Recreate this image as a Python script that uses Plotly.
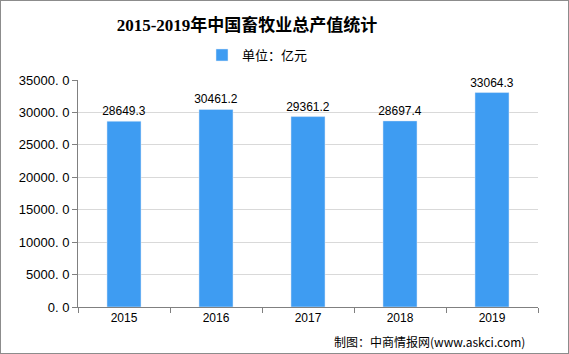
import plotly.graph_objects as go

years = ["2015", "2016", "2017", "2018", "2019"]
values = [28649.3, 30461.2, 29361.2, 28697.4, 33064.3]
y_ticks = [0, 5000, 10000, 15000, 20000, 25000, 30000, 35000]
y_tick_labels = ["0. 0", "5000. 0", "10000. 0", "15000. 0", "20000. 0", "25000. 0", "30000. 0", "35000. 0"]
series_name = "单位：亿元"
title = "2015-2019年中国畜牧业总产值统计"
source = "制图：中商情报网(www.askci.com)"

fig = go.Figure()
fig.add_trace(go.Bar(
    x=years, y=values, name=series_name,
    marker=dict(color="#3e9cf2"),
    width=0.37,
    text=[f"{v:.1f}" for v in values],
    textposition="outside",
    constraintext="none",
    textfont=dict(family="Liberation Sans, Noto Sans CJK SC", size=12, color="#000000"),
    cliponaxis=False,
))

fig.update_layout(
    width=569, height=354,
    margin=dict(l=78, r=31, t=80, b=47),
    paper_bgcolor="white", plot_bgcolor="white",
    title=dict(text=f"<b>{title}</b>", x=247/569, xanchor="center", y=1 - 25/354, yanchor="middle",
               xref="container", yref="container",
               font=dict(family="Liberation Serif, Noto Sans CJK SC", size=17, color="#000000")),
    showlegend=True,
    legend=dict(orientation="h", x=(202-78)/460, xanchor="left", y=1.11, yanchor="middle",
                font=dict(family="Noto Sans CJK SC", size=13, color="#000000"),
                itemwidth=30),
    bargap=0.63,
)
fig.update_xaxes(
    type="category", showline=True, linecolor="#808080", linewidth=1,
    ticks="outside", tickson="boundaries", ticklen=5, tickcolor="#808080",
    tickfont=dict(family="Liberation Sans", size=12, color="#000000"),
    showgrid=False,
)
fig.update_yaxes(
    range=[0, 35000], tickvals=y_ticks, ticktext=y_tick_labels,
    showline=True, linecolor="#808080", linewidth=1,
    ticks="outside", ticklen=5, tickcolor="#808080",
    tickfont=dict(family="Liberation Sans", size=13, color="#000000"),
    showgrid=True, gridcolor="#d9d9d9", gridwidth=1, zeroline=False,
)
fig.add_annotation(text=source, xref="paper", yref="paper", x=(527-78)/460, y=-34/226.7,
                   xanchor="right", yanchor="middle", showarrow=False,
                   font=dict(family="Noto Sans CJK SC", size=12, color="#000000"))
fig.add_shape(type="rect", xref="paper", yref="paper",
              x0=-78/460, x1=1 + 31/460, y0=-47/226.7, y1=1 + 80/226.7,
              line=dict(color="#8c8c8c", width=2))

fig.write_html("out.html")
